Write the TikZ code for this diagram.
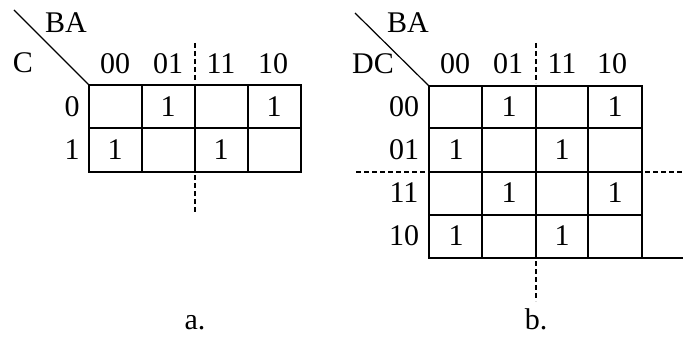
\documentclass[tikz,border=0pt]{standalone}
\usepackage{fontspec}
\setmainfont{Liberation Serif}
\begin{document}
\begin{tikzpicture}[x=1pt,y=-1pt,
  grid/.style={line width=2pt},
  cut/.style={line width=2pt,dash pattern=on 5pt off 3pt},
  lbl/.style={inner sep=0pt,font=\fontsize{30}{33}\selectfont},
  diag/.style={line width=1.2pt}]
\useasboundingbox (0,0) rectangle (683,337);
% ---------- map a ----------
\draw[grid] (89,85) rectangle (301,172);
\draw[grid] (89,128) -- (301,128);
\foreach \x in {142,195,248} \draw[grid] (\x,85) -- (\x,172);
\coordinate (adTop) at (14,10);
\coordinate (adEnd) at (89,85);
\draw[diag] (adTop) -- (adEnd);
\coordinate (avt1) at (195,43); \coordinate (avt2) at (195,82);
\coordinate (avb1) at (195,175); \coordinate (avb2) at (195,212);
\draw[cut] (avt1) -- (avt2);
\draw[cut] (avb1) -- (avb2);
\node[lbl] (aBA) at (66,23) {BA};
\node[lbl] (aC) at (23,63) {C};
\node[lbl] (ac1) at (115,64) {00};
\node[lbl] (ac2) at (168,64) {01};
\node[lbl] (ac3) at (221,64) {11};
\node[lbl] (ac4) at (273,64) {10};
\node[lbl] (ar1) at (72,107) {0};
\node[lbl] (ar2) at (72,150) {1};
\node[lbl] (a01) at (168,107) {1};
\node[lbl] (a04) at (274,107) {1};
\node[lbl] (a11) at (115,150) {1};
\node[lbl] (a13) at (221,150) {1};
\node[lbl,anchor=base] (acap) at (195,329) {a.};
% ---------- map b ----------
\draw[grid] (429,86) rectangle (642,258);
\foreach \y in {128,172,215} \draw[grid] (429,\y) -- (642,\y);
\foreach \x in {482,536,588} \draw[grid] (\x,86) -- (\x,258);
\coordinate (bEnd) at (683,258);
\draw[grid] (642,258) -- (bEnd);
\coordinate (bdTop) at (355,13);
\coordinate (bdEnd) at (429,86);
\draw[diag] (bdTop) -- (bdEnd);
\coordinate (bvt1) at (536,43); \coordinate (bvt2) at (536,83);
\coordinate (bvb1) at (536,261); \coordinate (bvb2) at (536,301);
\draw[cut] (bvt1) -- (bvt2);
\draw[cut] (bvb1) -- (bvb2);
\coordinate (bhl1) at (356,172); \coordinate (bhl2) at (427,172);
\coordinate (bhr1) at (645,172); \coordinate (bhr2) at (683,172);
\draw[cut] (bhl1) -- (bhl2);
\draw[cut] (bhr1) -- (bhr2);
\node[lbl] (bBA) at (408,23) {BA};
\node[lbl] (bDC) at (373,64) {DC};
\node[lbl] (bc1) at (455,64) {00};
\node[lbl] (bc2) at (508,64) {01};
\node[lbl] (bc3) at (562,64) {11};
\node[lbl] (bc4) at (612,64) {10};
\node[lbl] (br1) at (404,107) {00};
\node[lbl] (br2) at (404,150) {01};
\node[lbl] (br3) at (404,193) {11};
\node[lbl] (br4) at (404,236) {10};
\node[lbl] (b02) at (509,107) {1};
\node[lbl] (b04) at (615,107) {1};
\node[lbl] (b11) at (456,150) {1};
\node[lbl] (b13) at (562,150) {1};
\node[lbl] (b22) at (509,193) {1};
\node[lbl] (b24) at (615,193) {1};
\node[lbl] (b31) at (456,236) {1};
\node[lbl] (b33) at (562,236) {1};
\node[lbl,anchor=base] (bcap) at (536,329) {b.};
\end{tikzpicture}
\end{document}
